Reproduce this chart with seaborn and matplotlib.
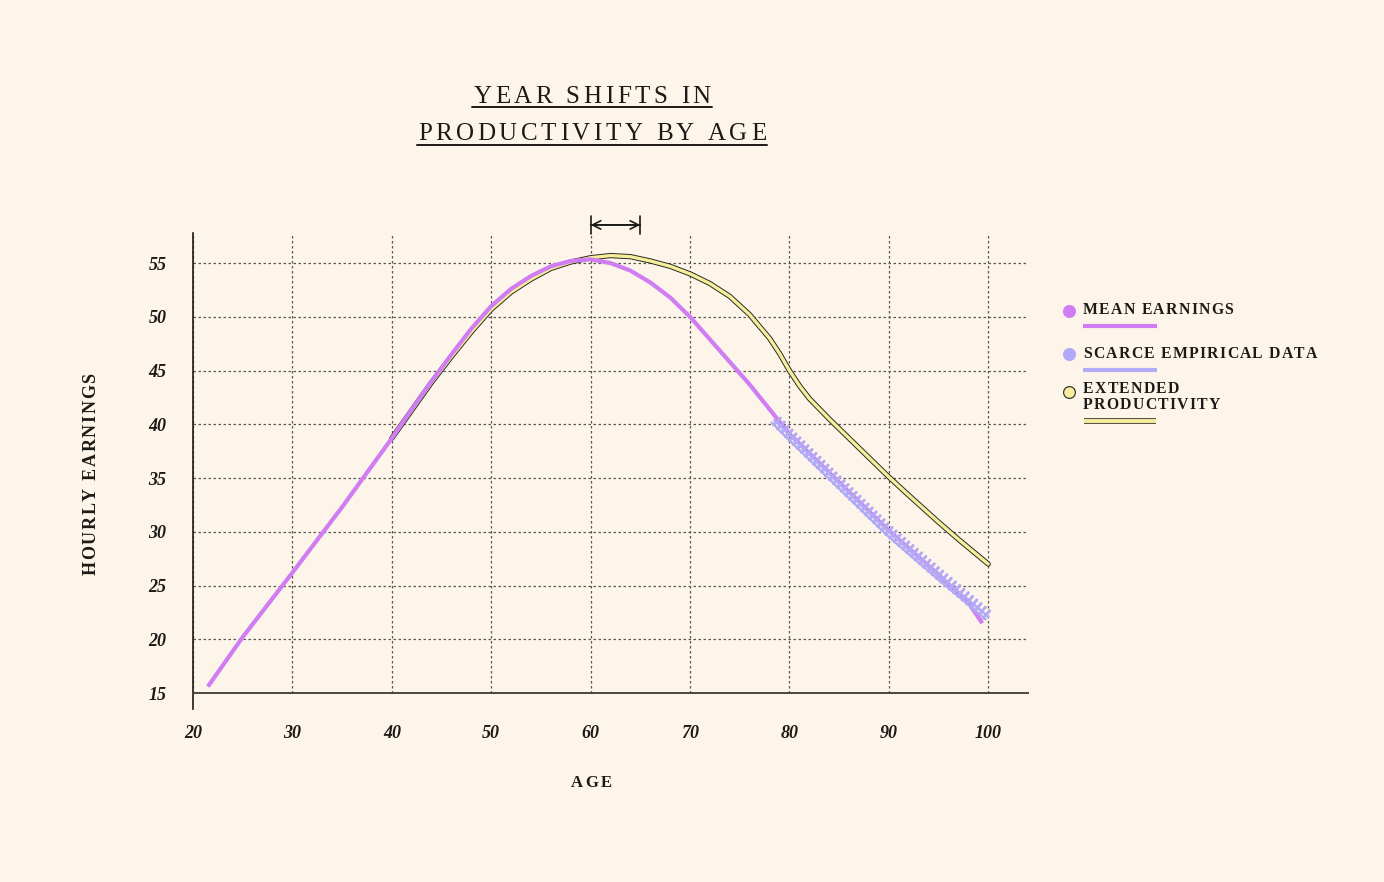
import matplotlib
matplotlib.use("Agg")
import matplotlib.pyplot as plt
import matplotlib.patheffects as pe
from matplotlib.lines import Line2D
import pandas as pd
import seaborn as sns

# values
mean_age = [21.5, 25, 30, 35, 40, 42, 44, 46, 48, 50, 52, 54, 56, 58, 60, 62, 64, 66, 68,
            70, 72, 74, 76, 78, 80, 85, 90, 95, 98, 99.4]
mean_earn = [15.6, 20.2, 26.2, 32.3, 38.7, 41.4, 44.0, 46.5, 48.9, 51.0, 52.6, 53.8, 54.7,
             55.2, 55.35, 55.0, 54.3, 53.2, 51.8, 50.0, 47.9, 45.8, 43.7, 41.4, 39.1, 34.6,
             30.1, 26.0, 23.4, 21.5]
scarce_age = [78.5, 80, 85, 90, 95, 100]
scarce_earn = [40.4, 39.0, 34.5, 30.0, 26.0, 22.1]
ext_age = [40, 42, 44, 46, 48, 50, 52, 54, 56, 58, 60, 62, 64, 66, 68, 70, 72, 74, 76,
           78, 79, 80, 81, 82, 84, 86, 88, 90, 92, 95, 97, 100]
ext_earn = [38.7, 41.3, 43.9, 46.3, 48.6, 50.7, 52.3, 53.5, 54.5, 55.1, 55.5, 55.7, 55.6,
            55.2, 54.7, 54.0, 53.1, 51.9, 50.2, 48.0, 46.6, 45.0, 43.6, 42.4, 40.5, 38.7,
            36.9, 35.1, 33.4, 30.9, 29.3, 27.0]
x_ticks = [20, 30, 40, 50, 60, 70, 80, 90, 100]
y_ticks = [15, 20, 25, 30, 35, 40, 45, 50, 55]
shift_span = [60, 65]

title_lines = ["YEAR SHIFTS IN", "PRODUCTIVITY BY AGE"]
legend_labels = [["MEAN EARNINGS"], ["SCARCE EMPIRICAL DATA"], ["EXTENDED", "PRODUCTIVITY"]]

bg = "#fdf5e9"
purple = "#d07cf2"
lavender = "#b2a9f7"
yellow = "#f6ee9c"
ink = "#1c1a17"
outline = "#2b2a20"
serif = "Liberation Serif"

sns.set_theme(style="white")
plt.rcParams["font.family"] = [serif, "DejaVu Serif"]

W, H = 1384, 882
fig = plt.figure(figsize=(W / 100, H / 100), dpi=100, facecolor=bg)
ax = fig.add_axes([193 / W, 1 - 693 / H, (1028 - 193) / W, (693 - 233) / H])
ax.set_facecolor(bg)

mean_df = pd.DataFrame({"age": mean_age, "earn": mean_earn})
scarce_df = pd.DataFrame({"age": scarce_age, "earn": scarce_earn})
ext_df = pd.DataFrame({"age": ext_age, "earn": ext_earn})

# extended productivity: yellow with dark outline
sns.lineplot(data=ext_df, x="age", y="earn", ax=ax, color=yellow, lw=2.4, sort=False,
             path_effects=[pe.Stroke(linewidth=3.8, foreground=outline), pe.Normal()],
             zorder=3)
# mean earnings
sns.lineplot(data=mean_df, x="age", y="earn", ax=ax, color=purple, lw=3.0, sort=False,
             zorder=4, solid_capstyle="butt")
# scarce empirical data: comb-hatched lavender band over the mean line
sns.lineplot(data=scarce_df, x="age", y="earn", ax=ax, color=lavender, lw=1.6, sort=False,
             path_effects=[pe.Stroke(offset=(-1.9, -1.9), linewidth=1.8, foreground=lavender),
                           pe.withTickedStroke(angle=90, spacing=4.0, length=1.0,
                                               linewidth=2.1, foreground=lavender),
                           pe.withTickedStroke(angle=-90, spacing=4.0, length=0.75,
                                               linewidth=2.1, foreground=lavender)],
             zorder=5)

ax.set_xlim(20, 104)
ax.set_ylim(15, 57.8)
ax.set_xticks(x_ticks)
ax.set_yticks(y_ticks)
ax.set_xlabel("")
ax.set_ylabel("")
ax.grid(True, color="#5a5650", ls=(0, (2, 2)), lw=0.9)
ax.set_axisbelow(True)
for s in ["top", "right"]:
    ax.spines[s].set_visible(False)
ax.spines["left"].set_color(ink)
ax.spines["left"].set_linewidth(1.2)
ax.spines["left"].set_bounds(13.55, 57.8)
ax.spines["bottom"].set_color("#4a4640")
ax.spines["bottom"].set_linewidth(1.4)
ax.tick_params(axis="x", length=16, width=1.1, color=ink, pad=7, labelsize=13,
               labelcolor=ink, direction="out")
ax.tick_params(axis="y", length=12, width=1.4, color="#4a4640", pad=7, labelsize=13,
               labelcolor=ink, direction="out")
for lab in ax.get_xticklabels() + ax.get_yticklabels():
    lab.set_fontweight("bold")
    lab.set_fontstyle("italic")

# shift marker above the peak
yv = 58.55
ax.annotate("", xy=(shift_span[1], yv), xytext=(shift_span[0], yv), annotation_clip=False,
            arrowprops=dict(arrowstyle="<->", color=ink, lw=1.2, shrinkA=0, shrinkB=0,
                            mutation_scale=15))
ax.annotate("", xy=(shift_span[1], yv), xytext=(shift_span[0], yv), annotation_clip=False,
            arrowprops=dict(arrowstyle="|-|,widthA=0.45,widthB=0.45", color=ink, lw=1.2,
                            shrinkA=0, shrinkB=0, mutation_scale=14))

renderer = fig.canvas.get_renderer()


def char_widths(s, **kw):
    out = []
    for ch in s:
        if ch == " ":
            a = fig.text(0, 0, "I I", **kw)
            b = fig.text(0, 0, "II", **kw)
            w = a.get_window_extent(renderer).width - b.get_window_extent(renderer).width
            a.remove()
            b.remove()
        else:
            t = fig.text(0, 0, ch, **kw)
            w = t.get_window_extent(renderer).width
            t.remove()
        out.append(w)
    return out


def spaced_text(x, y, s, track, align="left", vertical=False, **kw):
    """Draw s with extra letter spacing; x, y in pixels from top-left."""
    ws = char_widths(s, **kw)
    total = sum(ws) + track * (len(s) - 1)
    if vertical:
        pos = y + total / 2 if align == "center" else y
        for ch, w in zip(s, ws):
            fig.text(x / W, 1 - pos / H, ch, rotation=90, ha="center", va="bottom", **kw)
            pos -= w + track
    else:
        pos = x - total / 2 if align == "center" else x
        for ch, w in zip(s, ws):
            fig.text(pos / W, 1 - y / H, ch, ha="left", va="baseline", **kw)
            pos += w + track
    return total


# title with underlines
title_kw = dict(fontsize=18, color=ink, family=serif)
for line, base, uy in zip(title_lines, [103, 140], [106.5, 144.5]):
    tw = spaced_text(592, base, line, 3.6, align="center", **title_kw)
    fig.add_artist(Line2D([(592 - tw / 2 - 1) / W, (592 + tw / 2 + 1) / W],
                          [1 - uy / H, 1 - uy / H], color=ink, lw=1.4,
                          transform=fig.transFigure))

# axis labels
spaced_text(91, 474, "HOURLY EARNINGS", 1.7, align="center", vertical=True,
            fontsize=13, fontweight="bold", color=ink, family=serif)
spaced_text(591, 787, "AGE", 2.5, align="center",
            fontsize=12, fontweight="bold", color=ink, family=serif)

# legend
leg_kw = dict(fontsize=11.3, fontweight="bold", color=ink, family=serif)
leg_colors = [purple, lavender, yellow]
leg_bases = [[314], [358], [393, 409]]
leg_dots = [311, 354, 392]
leg_lines = [325.5, 370, 421]
for labels, bases, dy, ly, c in zip(legend_labels, leg_bases, leg_dots, leg_lines, leg_colors):
    for t, b in zip(labels, bases):
        spaced_text(1083, b, t, 1.25, **leg_kw)
    edge = "#3a382c" if c == yellow else c
    fig.add_artist(Line2D([1069 / W], [1 - dy / H], marker="o", markersize=8.5, ls="none",
                          markerfacecolor=c, markeredgecolor=edge, markeredgewidth=0.9,
                          transform=fig.transFigure))
    if c == yellow:
        fig.add_artist(Line2D([1084 / W, 1156 / W], [1 - ly / H, 1 - ly / H], color=c,
                              lw=2.8, solid_capstyle="butt", transform=fig.transFigure,
                              path_effects=[pe.Stroke(linewidth=4.0, foreground=outline),
                                            pe.Normal()]))
    else:
        fig.add_artist(Line2D([1083 / W, 1157 / W], [1 - ly / H, 1 - ly / H], color=c,
                              lw=3.0, solid_capstyle="butt", transform=fig.transFigure))

fig.savefig("out.png", dpi=100, facecolor=bg)
